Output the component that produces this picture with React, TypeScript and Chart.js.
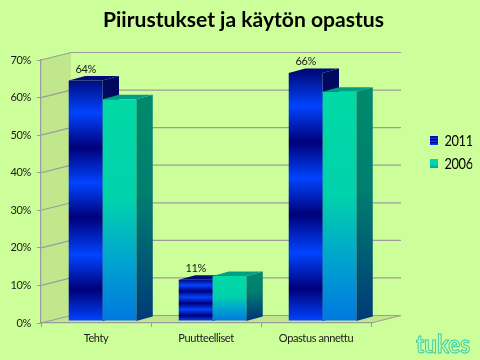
import React, { useEffect, useRef } from "react";
import { Chart, registerables } from "chart.js";

Chart.register(...registerables);

const TITLE = "Piirustukset ja käytön opastus";
const categories = ["Tehty", "Puutteelliset", "Opastus annettu"];
const values2011 = [64, 11, 66];
const values2006 = [59, 12, 61];
const yTicksMax = 70;

const FONT = "Lato, sans-serif";
const BG = "#CCFF99";
const WALL = "#C0E78C";
const GRID = "#9C9C9C";
const DARK = "#00007A";
const BRIGHT = "#0044FF";
const stops2011: [number, string][] = [
  [0, "#000C80"], [0.133, BRIGHT], [0.279, DARK], [0.425, BRIGHT],
  [0.57, DARK], [0.725, BRIGHT], [0.87, DARK], [1, BRIGHT],
];
const stops2006: [number, string][] = [[0, "#00D9A6"], [0.45, "#00D2AC"], [0.75, "#00A0D0"], [1, "#0078E0"]];
const side2011: [number, string][] = [[0, "#00085C"], [1, "#001A80"]];
const side2006: [number, string][] = [[0, "#008A6C"], [0.45, "#007E70"], [1, "#003C78"]];
const top2011 = "#000A78";
const top2006 = "#009E84";

const DEPTH_X = 30, DEPTH_Y = 7.5;
const BAR_DX = 6.5, BAR_DY = -2;
const SIDE_X = 16.5, SIDE_Y = 4.5;

function grad(ctx: CanvasRenderingContext2D, y0: number, y1: number, stops: [number, string][]) {
  const g = ctx.createLinearGradient(0, y0, 0, y1);
  stops.forEach(([p, c]) => g.addColorStop(p, c));
  return g;
}

function barFill(stops: [number, string][]) {
  return (c: any) => {
    const y = c.chart.scales.y;
    if (!y || c.parsed == null) return stops[0][1];
    return grad(c.chart.ctx, y.getPixelForValue(c.parsed.y), y.getPixelForValue(0), stops);
  };
}

const squeeze = (ctx: any, x: number, k: number) => {
  ctx.translate(x, 0);
  ctx.scale(k, 1);
  ctx.translate(-x, 0);
};

const scene = {
  id: "scene",
  beforeLayout(chart: any) {
    const l = chart.legend;
    if (l && !l.__wrapped) {
      l.__wrapped = true;
      const fit = l.fit, draw = l.draw;
      l.fit = function () { fit.call(this); this.width = 109; };
      l.draw = function () {
        const c = this.ctx;
        c.save();
        squeeze(c, 443, 0.8);
        draw.call(this);
        c.restore();
      };
    }
    const t = chart.titleBlock;
    if (t && !t.__wrapped) {
      t.__wrapped = true;
      const draw = t.draw;
      t.draw = function () {
        const c = this.ctx;
        c.save();
        c.letterSpacing = "0px";
        c.font = "bold 21px Lato";
        c.translate(3.5, 0);
        squeeze(c, 240, 281 / c.measureText(TITLE).width);
        draw.call(this);
        c.restore();
      };
    }
  },
  afterLayout(chart: any) {
    const l = chart.legend;
    if (l) {
      l.left = 426.75 - l.options.labels.padding;
      l.right = l.left + 60;
      l.top = 52;
      l.bottom = 252;
    }
  },
  beforeDraw(chart: any) {
    const { ctx, scales: { x, y } } = chart;
    const L = x.left, R = x.right, B = y.getPixelForValue(0), T = y.getPixelForValue(yTicksMax);
    ctx.letterSpacing = "-0.4px";
    ctx.save();
    ctx.fillStyle = BG;
    ctx.fillRect(0, 0, chart.width, chart.height);
    ctx.fillStyle = WALL;
    ctx.beginPath();
    ctx.moveTo(L, T); ctx.lineTo(L + DEPTH_X, T - DEPTH_Y); ctx.lineTo(L + DEPTH_X, B - DEPTH_Y);
    ctx.lineTo(R + DEPTH_X, B - DEPTH_Y); ctx.lineTo(R, B); ctx.lineTo(L, B);
    ctx.closePath();
    ctx.fill();
    ctx.strokeStyle = GRID;
    ctx.lineWidth = 1.2;
    y.ticks.forEach((t: any) => {
      const py = y.getPixelForValue(t.value);
      ctx.beginPath();
      ctx.moveTo(L, py); ctx.lineTo(L + DEPTH_X, py - DEPTH_Y); ctx.lineTo(R + DEPTH_X, py - DEPTH_Y);
      ctx.stroke();
    });
    ctx.beginPath();
    ctx.moveTo(R, B); ctx.lineTo(R + DEPTH_X, B - DEPTH_Y);
    ctx.stroke();
    ctx.restore();
  },
  beforeDatasetsDraw(chart: any) {
    const { ctx, scales: { y } } = chart;
    const base = y.getPixelForValue(0);
    ctx.save();
    ctx.translate(BAR_DX, BAR_DY);
    [0, 1].forEach((d) => {
      chart.getDatasetMeta(d).data.forEach((bar: any, i: number) => {
        const v = chart.data.datasets[d].data[i];
        const top = y.getPixelForValue(v);
        const l = bar.x - bar.width / 2, r = bar.x + bar.width / 2;
        ctx.fillStyle = grad(ctx, top - SIDE_Y, base - SIDE_Y, d === 0 ? side2011 : side2006);
        ctx.beginPath();
        ctx.moveTo(r, top); ctx.lineTo(r + SIDE_X, top - SIDE_Y);
        ctx.lineTo(r + SIDE_X, base - SIDE_Y); ctx.lineTo(r, base);
        ctx.closePath();
        ctx.fill();
        ctx.fillStyle = d === 0 ? top2011 : top2006;
        ctx.beginPath();
        ctx.moveTo(l, top); ctx.lineTo(l + SIDE_X, top - SIDE_Y);
        ctx.lineTo(r + SIDE_X, top - SIDE_Y); ctx.lineTo(r, top);
        ctx.closePath();
        ctx.fill();
      });
    });
    ctx.restore();
    ctx.save();
    ctx.translate(BAR_DX, BAR_DY);
  },
  afterDatasetsDraw(chart: any) {
    const { ctx, scales: { y } } = chart;
    ctx.restore();
    ctx.save();
    ctx.font = `11px ${FONT}`;
    ctx.fillStyle = "#1A1A1A";
    ctx.textAlign = "center";
    ctx.textBaseline = "middle";
    chart.getDatasetMeta(0).data.forEach((bar: any, i: number) => {
      const v = values2011[i];
      ctx.fillText(`${v}%`, bar.x + BAR_DX, y.getPixelForValue(v) + BAR_DY - 11.5);
    });
    ctx.restore();
  },
  afterDraw(chart: any) {
    const { ctx } = chart;
    ctx.save();
    ctx.letterSpacing = "0px";
    ctx.font = "bold 25px Lato";
    ctx.textAlign = "left";
    ctx.textBaseline = "alphabetic";
    squeeze(ctx, 416, 54 / ctx.measureText("tukes").width);
    ctx.lineWidth = 1;
    ctx.strokeStyle = "#35C8B0";
    ctx.fillStyle = BG;
    ctx.fillText("tukes", 416, 352.5);
    ctx.strokeText("tukes", 416, 352.5);
    ctx.restore();
  },
};

export default function App() {
  const ref = useRef<HTMLCanvasElement>(null);
  useEffect(() => {
    const chart = new Chart(ref.current as HTMLCanvasElement, {
      type: "bar",
      plugins: [scene as any],
      data: {
        labels: categories,
        datasets: [
          { label: "2011", data: values2011, backgroundColor: barFill(stops2011) as any, categoryPercentage: 0.614, barPercentage: 1, clip: false as any },
          { label: "2006", data: values2006, backgroundColor: barFill(stops2006) as any, categoryPercentage: 0.614, barPercentage: 1, clip: false as any },
        ],
      },
      options: {
        responsive: false,
        animation: false,
        layout: { padding: 0 },
        plugins: {
          tooltip: { enabled: false },
          title: {
            display: true,
            text: TITLE,
            color: "#000000",
            font: { family: FONT, size: 21, weight: "bold", lineHeight: 1 },
            padding: { top: 10, bottom: 29 },
          },
          legend: {
            position: "right",
            labels: {
              color: "#000000",
              font: { family: FONT, size: 16 },
              boxWidth: 10,
              boxHeight: 9,
              padding: 7,
              generateLabels(chart: any) {
                const ctx = chart.ctx;
                return chart.data.datasets.map((d: any, i: number) => ({
                  text: d.label,
                  datasetIndex: i,
                  lineWidth: 0,
                  fillStyle: i === 0 ? grad(ctx, 134, 144, stops2011) : grad(ctx, 160, 170, stops2006),
                }));
              },
            },
          },
        },
        scales: {
          x: {
            afterFit(s: any) { s.height = 37; },
            grid: { offset: true, drawOnChartArea: false, color: GRID, tickLength: 4 },
            border: { color: GRID, width: 1.2 },
            ticks: { color: "#1A1A1A", font: { family: FONT, size: 11 }, padding: 5, maxRotation: 0 },
          },
          y: {
            min: 0,
            max: yTicksMax,
            afterFit(s: any) { s.width = 41; },
            grid: { drawOnChartArea: false, color: GRID, tickLength: 4 },
            border: { color: GRID, width: 1.2 },
            ticks: { stepSize: 10, color: "#1A1A1A", font: { family: FONT, size: 11 }, padding: 6, callback: (v: any) => `${v}%` },
          },
        },
      },
    });
    return () => chart.destroy();
  }, []);
  return (
    <div style={{ position: "absolute", left: 0, top: 0, width: 480, height: 360 }}>
      <canvas ref={ref} width={480} height={360} style={{ display: "block" }} />
    </div>
  );
}
